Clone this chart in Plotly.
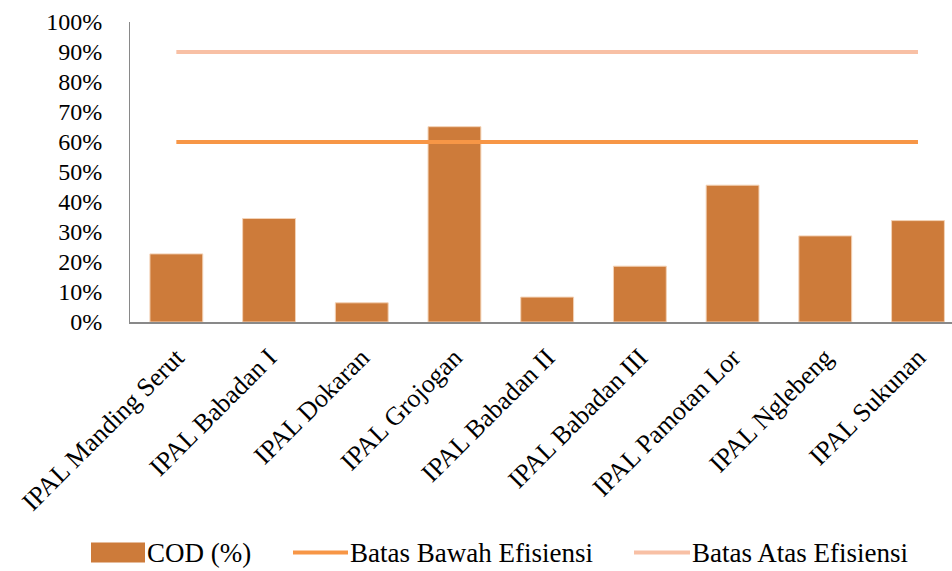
import plotly.graph_objects as go

# Data
sites = ["IPAL Manding Serut", "IPAL Babadan I", "IPAL Dokaran", "IPAL Grojogan",
         "IPAL Babadan II", "IPAL Babadan III", "IPAL Pamotan Lor", "IPAL Nglebeng",
         "IPAL Sukunan"]
cod = [0.227, 0.345, 0.064, 0.651, 0.083, 0.186, 0.456, 0.287, 0.338]
batas_bawah = [0.60] * len(sites)
batas_atas = [0.90] * len(sites)
y_ticks = [i / 10 for i in range(11)]

BAR_COLOR = "#CD7B3A"
LOW_COLOR = "#F79646"
HIGH_COLOR = "#F8C0A5"
FONT = "'Liberation Serif', 'Times New Roman', 'DejaVu Serif', serif"

fig = go.Figure()
fig.add_trace(go.Bar(x=sites, y=cod, name="COD (%)", width=0.57,
                     marker=dict(color=BAR_COLOR, line=dict(color="#F3D2B6", width=1)),
                     showlegend=False))
fig.add_trace(go.Scatter(x=sites, y=batas_bawah, name="Batas Bawah Efisiensi",
                         mode="lines", line=dict(color=LOW_COLOR, width=4),
                         showlegend=False))
fig.add_trace(go.Scatter(x=sites, y=batas_atas, name="Batas Atas Efisiensi",
                         mode="lines", line=dict(color=HIGH_COLOR, width=4),
                         showlegend=False))

# Legend drawn beneath the axis labels
legend_items = [
    ("rect", BAR_COLOR, "COD (%)", 91, 145),
    ("line", LOW_COLOR, "Batas Bawah Efisiensi", 293, 348),
    ("line", HIGH_COLOR, "Batas Atas Efisiensi", 634, 690),
]
W, H = 952, 571
ly = 553
for kind, color, label, x0, x1 in legend_items:
    if kind == "rect":
        fig.add_shape(type="rect", xref="paper", yref="paper",
                      x0=(x0 - 130) / (W - 130), x1=(x1 - 130) / (W - 130),
                      y0=(322.5 - (ly + 10)) / 300, y1=(322.5 - (ly - 10)) / 300,
                      fillcolor=color, line=dict(width=0))
    else:
        fig.add_shape(type="line", xref="paper", yref="paper",
                      x0=(x0 - 130) / (W - 130), x1=(x1 - 130) / (W - 130),
                      y0=(322.5 - ly) / 300, y1=(322.5 - ly) / 300,
                      line=dict(color=color, width=4))
    fig.add_annotation(text=label, xref="paper", yref="paper",
                       x=(x1 - 130) / (W - 130), y=(322.5 - ly) / 300,
                       xanchor="left", yanchor="middle", showarrow=False,
                       font=dict(family=FONT, size=27, color="black"))

fig.update_layout(
    width=W, height=H,
    margin=dict(l=130, r=0, t=22, b=249),
    plot_bgcolor="white", paper_bgcolor="white",
    font=dict(family=FONT, size=24, color="black"),
    bargap=0.43,
    xaxis=dict(range=[-0.5, 8.367], showline=True, linecolor="#898989", linewidth=2,
               tickangle=-45, ticks="", showgrid=False, zeroline=False,
               ticklabelstandoff=8,
               tickfont=dict(family=FONT, size=26, color="black")),
    yaxis=dict(range=[0, 1], tickvals=y_ticks, tickformat=".0%", showline=True,
               linecolor="#898989", linewidth=1, showgrid=False, zeroline=False,
               ticks="", ticklabelstandoff=22,
               tickfont=dict(family=FONT, size=24, color="black")),
)

fig.write_html("out.html")
